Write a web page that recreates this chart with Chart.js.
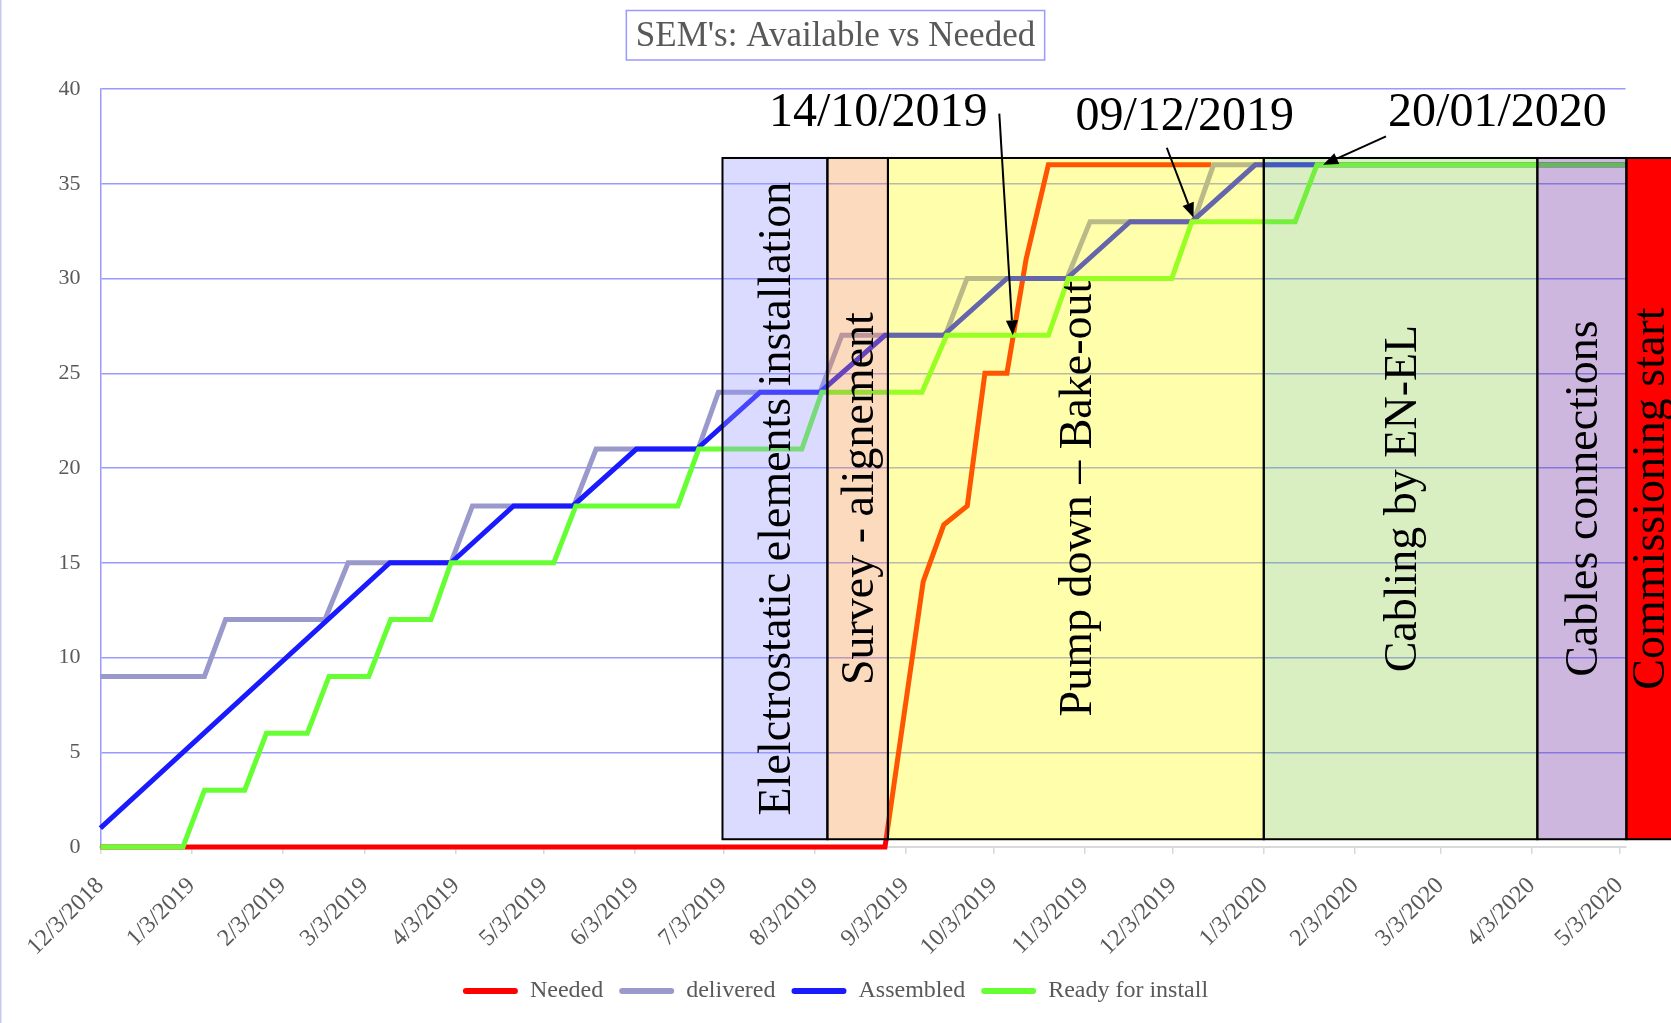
<!DOCTYPE html>
<html><head><meta charset="utf-8">
<script src="https://cdn.jsdelivr.net/npm/chart.js@4.4.1/dist/chart.umd.min.js"></script>
<style>html,body{margin:0;padding:0;background:#fff;overflow:hidden}#wrap{width:1671px;height:1023px;position:relative}</style>
</head><body><div id="wrap"><canvas id="c"></canvas></div>
<script>
// x values are days since 12/3/2018
const tickDays = [0,31,62,90,121,151,182,212,243,274,304,335,365,396,427,456,487,517];
const tickLabels = ['12/3/2018','1/3/2019','2/3/2019','3/3/2019','4/3/2019','5/3/2019','6/3/2019','7/3/2019','8/3/2019','9/3/2019','10/3/2019','11/3/2019','12/3/2019','1/3/2020','2/3/2020','3/3/2020','4/3/2020','5/3/2020'];
const seriesNames = ['Needed','delivered','Assembled','Ready for install'];

const neededDays = [0,267,280,287,295,301,308.5,315,322.6,378];
const neededValues = [0,0,14,17,18,25,25,31,36,36];
const deliveredDays = [0,35.4,42.6,76.4,84.3,119.3,126.6,161.1,168.7,203.4,210.3,244.9,252.3,287.5,294.9,328.9,336.8,372,378.8,519];
const deliveredValues = [9,9,12,12,15,15,18,18,21,21,24,24,27,27,30,30,33,33,36,36];
const assembledDays = [0,98.5,119.3,140.6,160.8,182.4,203,224.5,244.9,267,286.9,308.5,328.9,350.4,371.4,393,519];
const assembledValues = [1,15,15,18,18,21,21,24,24,27,27,30,30,33,33,36,36];
const readyDays = [0,28.1,35.4,49.1,56.5,70.4,77.8,91.3,98.8,112.5,119.3,154.3,161.8,196.5,203.6,238.7,245.5,279.6,288,322.6,329.4,364.6,371.4,406.6,414,519];
const readyValues = [0,0,3,3,6,6,9,9,12,12,15,15,18,18,21,21,24,24,27,27,30,30,33,33,36,36];

const phaseNames = ['Elelctrostatic elements installation','Survey - alignement','Pump down \u2013 Bake-out','Cabling by EN-EL','Cables connections','Commissioning start'];
const phaseStartDays = [211.7,247.4,268,395.9,489,519.3];
const phaseEndDays = [247.4,268,395.9,489,519.3,540];
const phaseLow = 0.41, phaseHigh = 36.36;

const calloutTexts = ['14/10/2019','09/12/2019','20/01/2020'];
const calloutTextAt = [[264.7,38.71],[369,38.5],[475.4,38.71]];
const calloutFrom = [[305.9,38.7],[362.9,36.9],[437.5,37.5]];
const calloutTo = [[310.5,27.0],[372.0,33.2],[416.1,36.0]];

const FONT = '"Liberation Serif", "Times New Roman", serif';
const seriesColors = ['#ff0000','#9999cc','#1a1aff','#66ff33'];
const phaseFill = ['#9999ff','#f79646','#ffff00','#92d050','#7030a0','#ff0000'];
const phaseAlpha = [0.35,0.35,0.33,0.35,0.35,1];

function pts(d,v){ return d.map((x,i)=>({x:x,y:v[i]})); }
const seriesData = [pts(neededDays,neededValues),pts(deliveredDays,deliveredValues),pts(assembledDays,assembledValues),pts(readyDays,readyValues)];

const overlay = {
  id:'overlay',
  afterDatasetsDraw(chart){
    const {ctx, scales:{x,y}} = chart;
    const top = y.getPixelForValue(phaseHigh), bot = y.getPixelForValue(phaseLow);
    ctx.save();
    phaseNames.forEach((n,i)=>{
      const l = x.getPixelForValue(phaseStartDays[i]), r = x.getPixelForValue(phaseEndDays[i]);
      ctx.globalAlpha = phaseAlpha[i]; ctx.fillStyle = phaseFill[i];
      ctx.fillRect(l, top, r-l, bot-top);
    });
    ctx.globalAlpha = 1; ctx.strokeStyle = '#000'; ctx.lineWidth = 2;
    phaseNames.forEach((n,i)=>{
      const l = x.getPixelForValue(phaseStartDays[i]), r = x.getPixelForValue(phaseEndDays[i]);
      ctx.strokeRect(l, top, r-l, bot-top);
    });
    ctx.fillStyle = '#000'; ctx.font = '46px ' + FONT; ctx.textAlign = 'center'; ctx.textBaseline = 'middle';
    phaseNames.forEach((n,i)=>{
      let l = x.getPixelForValue(phaseStartDays[i]), r = x.getPixelForValue(phaseEndDays[i]);
      if (i === phaseNames.length-1) r = Math.min(r, chart.width);
      ctx.save(); ctx.translate((l+r)/2 + 3, (top+bot)/2); ctx.rotate(-Math.PI/2); ctx.fillText(n,0,0); ctx.restore();
    });
    ctx.font = '48px ' + FONT;
    calloutTexts.forEach((t,i)=>{
      ctx.fillText(t, x.getPixelForValue(calloutTextAt[i][0]), y.getPixelForValue(calloutTextAt[i][1]));
      const x1 = x.getPixelForValue(calloutFrom[i][0]), y1 = y.getPixelForValue(calloutFrom[i][1]);
      const x2 = x.getPixelForValue(calloutTo[i][0]), y2 = y.getPixelForValue(calloutTo[i][1]);
      const a = Math.atan2(y2-y1, x2-x1), L = 15, W = 6;
      const bx = x2 - L*Math.cos(a), by = y2 - L*Math.sin(a);
      ctx.beginPath(); ctx.moveTo(x1,y1); ctx.lineTo(bx,by); ctx.lineWidth = 2; ctx.stroke();
      ctx.beginPath(); ctx.moveTo(x2,y2);
      ctx.lineTo(bx + W*Math.sin(a), by - W*Math.cos(a));
      ctx.lineTo(bx - W*Math.sin(a), by + W*Math.cos(a));
      ctx.closePath(); ctx.fill();
    });
    ctx.restore();
  },
  afterDraw(chart){
    const {ctx} = chart;
    ctx.save();
    const tb = chart.titleBlock;
    ctx.font = '35px ' + FONT;
    const w = ctx.measureText(chart.options.plugins.title.text).width;
    const cx = (tb.left + tb.right)/2;
    ctx.strokeStyle = '#9999ff'; ctx.lineWidth = 1.5;
    ctx.strokeRect(cx - w/2 - 9.5, 10.5, w + 19, 49.5);
    ctx.fillStyle = '#c8c8f0'; ctx.fillRect(0,0,1.5,chart.height);
    ctx.restore();
  }
};

new Chart(document.getElementById('c'), {
  type:'line',
  data:{ datasets: seriesNames.map((n,i)=>({
    label:n, data:seriesData[i], borderColor:seriesColors[i], backgroundColor:seriesColors[i],
    borderWidth:5, pointRadius:0, tension:0, fill:false, order:4-i, borderJoinStyle:'miter', clip:false
  }))},
  options:{
    responsive:true, maintainAspectRatio:false, animation:false,
    layout:{padding:{top:0,left:0,right:0,bottom:10}},
    plugins:{
      title:{display:true, text:"SEM's: Available vs Needed", color:'#595959', font:{family:FONT,size:35,weight:'normal'}, padding:{top:16,bottom:31}},
      legend:{position:'bottom', labels:{boxWidth:55, boxHeight:6, useBorderRadius:true, borderRadius:3, padding:16, color:'#595959', font:{family:FONT,size:24},
        generateLabels:(chart)=>chart.data.datasets.map((ds,i)=>({text:ds.label, fillStyle:ds.borderColor, strokeStyle:ds.borderColor, lineWidth:0, hidden:false, datasetIndex:i, fontColor:'#595959', borderRadius:3}))}},
      tooltip:{enabled:false}
    },
    scales:{
      x:{type:'linear', min:0, max:519,
        afterBuildTicks:(s)=>{ s.ticks = tickDays.map(v=>({value:v})); },
        ticks:{autoSkip:false, maxRotation:45, minRotation:45, color:'#595959', font:{family:FONT,size:24}, padding:18, callback:(v,i)=>tickLabels[i]},
        grid:{drawOnChartArea:false, color:'#d9d9d9', lineWidth:1.5, tickLength:7},
        border:{color:'#d9d9d9', width:2},
        afterFit:(s)=>{ s.height = 116; }
      },
      y:{min:0, max:40,
        ticks:{stepSize:5, color:'#595959', font:{family:FONT,size:22}, padding:20},
        grid:{color:'#9999ff', lineWidth:1.5, drawTicks:false},
        border:{color:'#9999ff', width:1.5},
        afterFit:(s)=>{ s.width = 100.4; }
      },
      yr:{position:'right', display:true, grid:{display:false}, border:{display:false}, ticks:{display:false},
        afterFit:(s)=>{ s.width = 45.5; }
      }
    }
  },
  plugins:[overlay]
});
</script></body></html>
